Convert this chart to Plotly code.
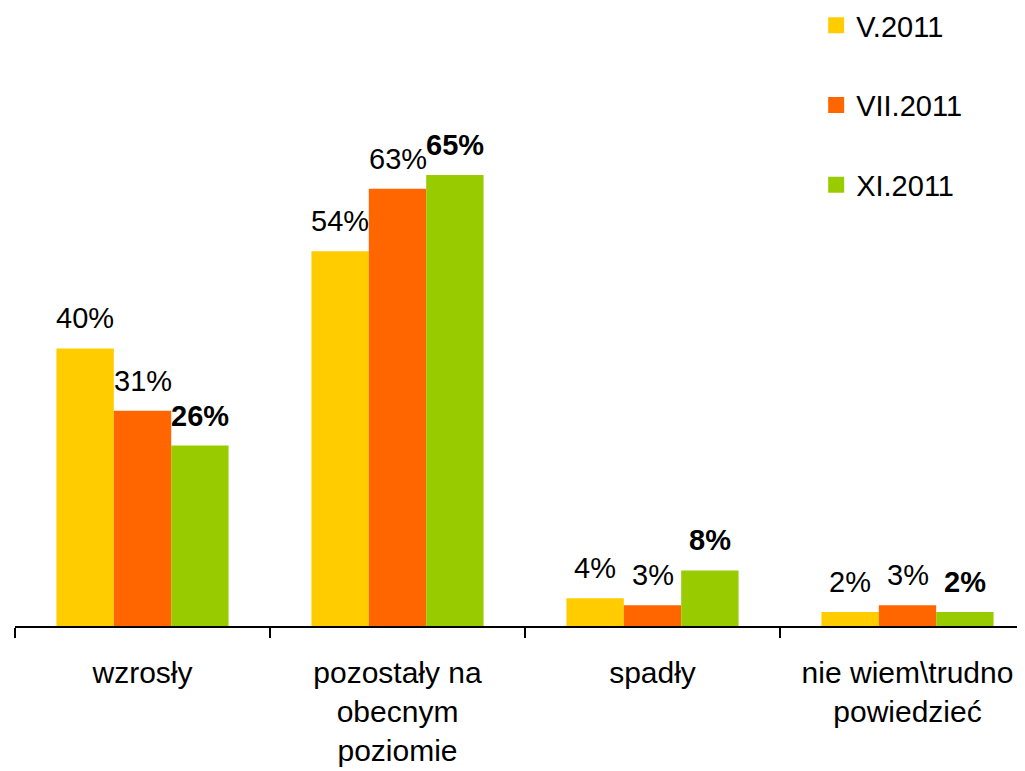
import plotly.graph_objects as go

categories = ["wzrosły", "pozostały na<br>obecnym<br>poziomie", "spadły", "nie wiem\\trudno<br>powiedzieć"]
series_names = ["V.2011", "VII.2011", "XI.2011"]
v_may = [40, 54, 4, 2]
v_jul = [31, 63, 3, 3]
v_nov = [26, 65, 8, 2]
colors = ["#FFCC00", "#FF6600", "#99CC00"]
bold_flags = [False, False, True]

series_values = [v_may, v_jul, v_nov]
FONT = "Liberation Sans, Arial, sans-serif"
bargap = 0.325
n_series = len(series_values)
bar_w = (1 - bargap) / n_series
PX_PER_UNIT = 6.94
PLOT_H = 618
PLOT_W = 1018

fig = go.Figure()
for name, vals, col in zip(series_names, series_values, colors):
    fig.add_trace(go.Bar(
        x=list(range(len(categories))), y=vals, name=name,
        marker=dict(color=col, line=dict(width=0)),
        showlegend=False, legendgroup=name,
    ))
# legend entries with larger square markers
for name, col in zip(series_names, colors):
    fig.add_trace(go.Scatter(
        x=[None], y=[None], mode="markers", name=name, legendgroup=name,
        marker=dict(symbol="square", size=16, color=col),
    ))

annotations = []
for j, (vals, bold) in enumerate(zip(series_values, bold_flags)):
    for i, v in enumerate(vals):
        annotations.append(dict(
            x=i + (j - (n_series - 1) / 2) * bar_w, y=v, xref="x", yref="y",
            text=f"{v}%", showarrow=False, yanchor="middle", yshift=30,
            font=dict(family=FONT, size=29, color="black",
                      weight="bold" if bold else "normal"),
        ))

fig.update_layout(
    width=1025, height=771,
    margin=dict(l=7, r=0, t=0, b=153, autoexpand=False),
    paper_bgcolor="white", plot_bgcolor="white",
    barmode="group", bargap=bargap, bargroupgap=0,
    font=dict(family=FONT, size=29, color="black"),
    showlegend=True,
    legend=dict(x=0.787, xanchor="left", y=1 + 8 / PLOT_H, yanchor="top",
                font=dict(family=FONT, size=29, color="black"),
                traceorder="grouped", tracegroupgap=39, bgcolor="rgba(0,0,0,0)"),
    annotations=annotations,
)
fig.update_xaxes(
    type="linear", range=[-0.5, -0.5 + PLOT_W / 255], automargin=False,
    tickmode="array", tickvals=list(range(len(categories))), ticktext=categories,
    showline=True, linecolor="black", linewidth=1.5,
    ticks="", showgrid=False, zeroline=False, ticklabelstandoff=19,
    tickfont=dict(family=FONT, size=30, color="black"),
)
# boundary tick marks via minor ticks
fig.update_xaxes(minor=dict(tickmode="array", tickvals=[-0.5, 0.5, 1.5, 2.5, 3.5],
                            ticks="outside", ticklen=10, tickcolor="black", tickwidth=1.5,
                            showgrid=False))
fig.update_yaxes(range=[0, PLOT_H / PX_PER_UNIT], showticklabels=False, showgrid=False,
                 zeroline=False, showline=False, automargin=False)

fig.write_html("out.html")
